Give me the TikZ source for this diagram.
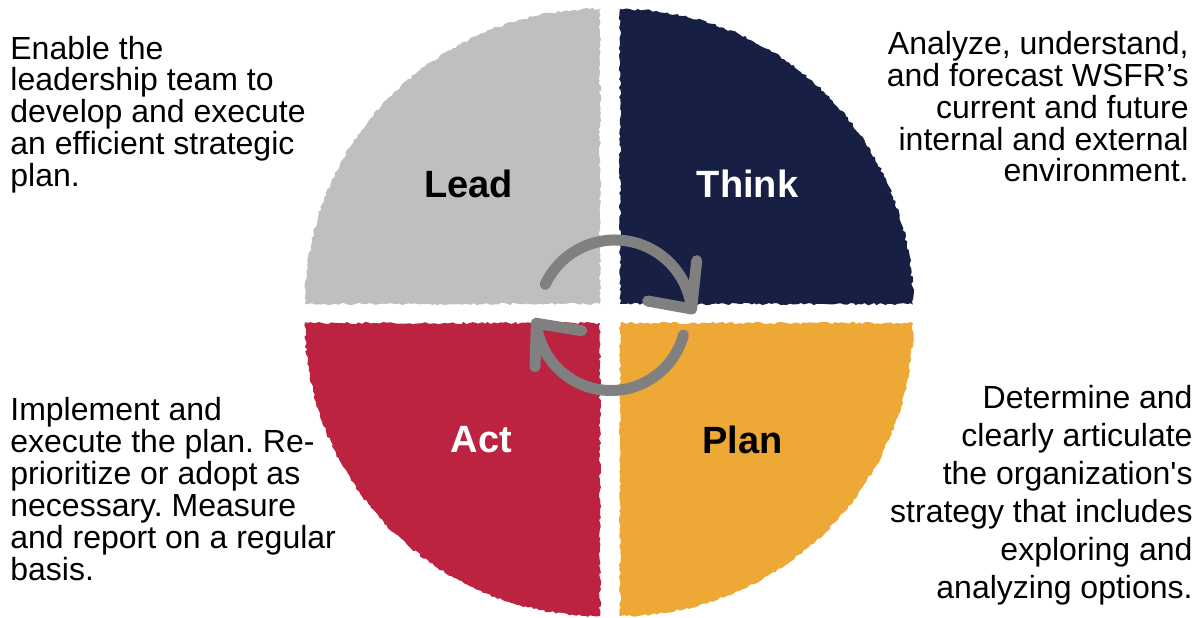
\documentclass[tikz,border=0pt]{standalone}
\usepackage{fontspec}
\setmainfont{Liberation Sans}
\usetikzlibrary{decorations.pathmorphing}
\frenchspacing

\definecolor{leadgray}{RGB}{191,191,191}
\definecolor{thinknavy}{RGB}{23,32,68}
\definecolor{actred}{RGB}{188,35,65}
\definecolor{planorange}{RGB}{238,168,54}
\definecolor{arrowgray}{RGB}{128,128,128}

\begin{document}
\begin{tikzpicture}[x=0.5pt,y=0.5pt,
    quad/.style={decorate,decoration={random steps,segment length=1.5pt,amplitude=0.6pt}},
    word/.style={font=\fontsize{19}{22}\selectfont\bfseries},
    note/.style={font=\fontsize{16}{16}\selectfont,inner sep=0pt},
    turn/.style={line width=5.5pt,line cap=round,line join=round,arrowgray}]
  \useasboundingbox (0,0) rectangle (1200,617);

  % corners of the four quarters
  \coordinate (L) at (600,313);
  \coordinate (T) at (620,313);
  \coordinate (A) at (600,294);
  \coordinate (P) at (620,294);

  \fill[leadgray,quad] (L) -- ++(-295,0) arc[start angle=180,end angle=90,radius=295] -- cycle;
  \fill[thinknavy,quad] (T) -- ++(0,295) arc[start angle=90,end angle=0,x radius=293,y radius=295] -- cycle;
  \fill[planorange,quad] (P) -- ++(293,0) arc[start angle=0,end angle=-90,radius=293] -- cycle;
  \fill[actred,quad] (A) -- ++(0,-293) arc[start angle=-90,end angle=-180,x radius=295,y radius=293] -- cycle;

  % the cycle arrows
  \coordinate (hubA) at (615,300);
  \coordinate (hubB) at (611,301.5);
  \draw[turn] ([shift={(155:77)}]hubA) arc[start angle=155,end angle=6,radius=77] coordinate (tipA);
  \draw[turn] (696.7,356.3) -- (tipA) -- (647.7,316);
  \draw[turn] ([shift={(-15:75)}]hubB) arc[start angle=-15,end angle=-174,radius=75] coordinate (tipB);
  \draw[turn] (535,250.3) -- (tipB) -- (581.7,286.3);

  \node[word] (lead) at (468.5,433) {Lead};
  \node[word,white] (think) at (747.5,433) {Think};
  \node[word,white] (act) at (481.5,177) {Act};
  \node[word] (plan) at (742.5,177) {Plan};

  % notes, placed by the baseline of their last line
  \node[note,align=left,anchor=base west] (leadnote) at (10,430)
    {Enable the\\leadership team to\\develop and execute\\an efficient strategic\\plan.};
  \node[note,align=right,anchor=base east] (thinknote) at (1189,435)
    {Analyze, understand,\\and forecast WSFR’s\\current and future\\internal and external\\environment.};
  \node[note,align=left,anchor=base west] (actnote) at (10,37)
    {Implement and\\execute the plan. Re-\\prioritize or adopt as\\necessary. Measure\\and report on a regular\\basis.};
  \node[note,align=right,anchor=base east,font=\fontsize{16}{19}\selectfont] (plannote) at (1193,19)
    {Determine and\\clearly articulate\\the organization\textquotesingle s\\strategy that includes\\exploring and\\analyzing options.};
\end{tikzpicture}
\end{document}
